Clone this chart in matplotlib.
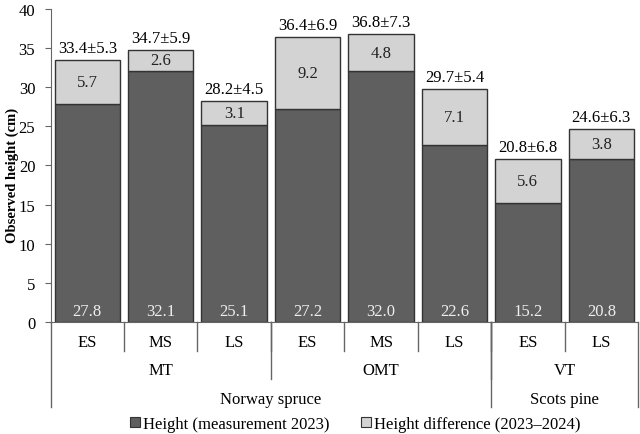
import matplotlib
matplotlib.use("Agg")
import matplotlib.pyplot as plt
from matplotlib.patches import Patch

# Data
stages = ["ES", "MS", "LS", "ES", "MS", "LS", "ES", "LS"]
site_types = ["MT", "OMT", "VT"]
site_spans = [(0, 3), (3, 6), (6, 8)]
species = ["Norway spruce", "Scots pine"]
species_spans = [(0, 6), (6, 8)]
height_2023 = [27.8, 32.1, 25.1, 27.2, 32.0, 22.6, 15.2, 20.8]
height_diff = [5.7, 2.6, 3.1, 9.2, 4.8, 7.1, 5.6, 3.8]
total_mean = [33.4, 34.7, 28.2, 36.4, 36.8, 29.7, 20.8, 24.6]
total_sd = [5.3, 5.9, 4.5, 6.9, 7.3, 5.4, 6.8, 6.3]

plt.rcParams["font.family"] = "serif"
plt.rcParams["font.serif"] = ["Liberation Serif", "DejaVu Serif"]
plt.rcParams["font.size"] = 12

dark = "#5f5f5f"
light = "#d3d3d3"
edge = "#333333"

fig = plt.figure(figsize=(6.4, 4.35), dpi=100)
ax = fig.add_axes([0.079, 0.2575, 0.918, 0.72])

x = list(range(len(stages)))
ax.bar(x, height_2023, width=0.89, color=dark, edgecolor=edge, linewidth=1,
       label="Height (measurement 2023)")
ax.bar(x, height_diff, width=0.89, bottom=height_2023, color=light, edgecolor=edge,
       linewidth=1, label="Height difference (2023\u20132024)")

for i in x:
    top = height_2023[i] + height_diff[i]
    ax.annotate(f"{total_mean[i]:.1f}\u00b1{total_sd[i]:.1f}", (i, top),
                xytext=(0, 3), textcoords="offset points", ha="center", va="bottom")
    ax.text(i, height_2023[i] + height_diff[i] / 2, f"{height_diff[i]:.1f}",
            ha="center", va="center", color="#222222")
    ax.text(i, 1.4, f"{height_2023[i]:.1f}", ha="center", va="center", color="#eeeeee")

ax.set_xlim(-0.5, len(stages) - 0.5)
ax.set_ylim(0, 40)
ax.set_yticks(range(0, 41, 5))
ax.set_xticks([])
ax.set_ylabel("Observed height (cm)", fontweight="bold", fontsize=10.5)
ax.yaxis.set_label_coords(-0.053, 0.47)
for s in ["top", "right"]:
    ax.spines[s].set_visible(False)
ax.spines["left"].set_color("#666666")
ax.spines["bottom"].set_color("#666666")
ax.tick_params(axis="y", direction="out", length=4, pad=7, color="#666666")

# multi-level category axis
tr = ax.get_xaxis_transform()
line_kw = dict(transform=tr, color="#666666", linewidth=1, clip_on=False)
for i, s in enumerate(stages):
    ax.text(i, -0.064, s, transform=tr, ha="center", va="center")
for b in range(1, len(stages)):
    ax.plot([b - 0.5, b - 0.5], [0, -0.093], **line_kw)
for name, (a, b) in zip(site_types, site_spans):
    ax.text((a + b - 1) / 2, -0.153, name, transform=tr, ha="center", va="center")
for a, b in site_spans[:-1]:
    ax.plot([b - 0.5, b - 0.5], [0, -0.182], **line_kw)
for name, (a, b) in zip(species, species_spans):
    ax.text((a + b - 1) / 2, -0.246, name, transform=tr, ha="center", va="center")
for edge_x in [-0.5, 5.5, 7.5]:
    ax.plot([edge_x, edge_x], [0, -0.272], **line_kw)

handles = [Patch(facecolor=dark, edgecolor=edge, linewidth=0.8),
           Patch(facecolor=light, edgecolor=edge, linewidth=0.8)]
fig.legend(handles, ["Height (measurement 2023)", "Height difference (2023\u20132024)"],
           loc="center", bbox_to_anchor=(0.555, 0.023), ncol=2, frameon=False,
           handlelength=0.6, handleheight=0.6, handletextpad=0.15, columnspacing=1.9)

fig.savefig("out.png", dpi=100)
